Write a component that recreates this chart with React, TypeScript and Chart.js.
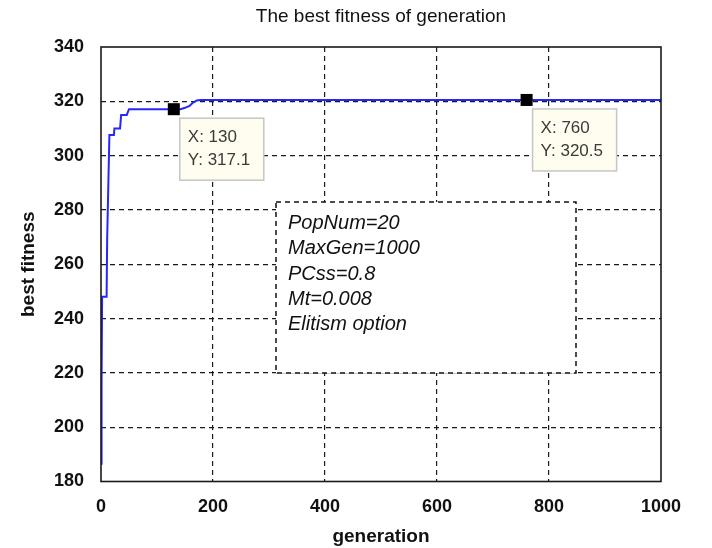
import React, { useEffect, useRef } from 'react';
import Chart from 'chart.js/auto';

// best fitness per generation (steps kept as point pairs)
const generations = [0, 1, 2, 10, 11, 13, 15, 23, 24, 34, 36, 46, 50, 142, 150, 158, 163, 171, 178, 1000];
const bestFitness = [186.5, 217, 248, 248, 269, 288.5, 307.6, 307.6, 310, 310, 315, 315, 317.1, 317.1, 317.6, 318.3, 319.3, 320.3, 320.5, 320.5];

// data tips
const tipGenerations = [130, 760];
const tipFitness = [317.1, 320.5];

const xTickValues = [0, 200, 400, 600, 800, 1000];
const yTickValues = [180, 200, 220, 240, 260, 280, 300, 320, 340];

const chartTitle = 'The best fitness of generation';
const xTitle = 'generation';
const yTitle = 'best fitness';
const noteLines = ['PopNum=20', 'MaxGen=1000', 'PCss=0.8', 'Mt=0.008', 'Elitism option'];

const FONT = '"Liberation Sans", Arial, Helvetica, sans-serif';
const INK = '#111111';

const edgeAware = (min: number, max: number) => (c: any) =>
  c.tick && (c.tick.value === min || c.tick.value === max) ? 'rgba(0,0,0,0)' : '#1a1a1a';

const overlay = {
  id: 'overlay',
  afterDatasetsDraw(chart: any) {
    const { ctx, chartArea } = chart;
    const { left, right, top, bottom } = chartArea;
    const xs = chart.scales.x;
    const ys = chart.scales.y;
    ctx.save();

    // parameter note box
    const nx = left + 175;
    const ny = top + 155;
    const nw = 300;
    const nh = 171;
    ctx.fillStyle = '#ffffff';
    ctx.fillRect(nx, ny, nw, nh);
    ctx.setLineDash([5, 4]);
    ctx.lineWidth = 1.5;
    ctx.strokeStyle = INK;
    ctx.strokeRect(nx, ny, nw, nh);
    ctx.setLineDash([]);
    ctx.fillStyle = INK;
    ctx.font = `italic 20px ${FONT}`;
    ctx.textAlign = 'left';
    ctx.textBaseline = 'middle';
    noteLines.forEach((line, i) => ctx.fillText(line, nx + 12, ny + 21.5 + i * 25.3));

    // frame
    ctx.lineWidth = 1.6;
    ctx.strokeStyle = '#1a1a1a';
    ctx.strokeRect(left, top, right - left, bottom - top);

    // title
    ctx.fillStyle = INK;
    ctx.font = `19px ${FONT}`;
    ctx.textAlign = 'center';
    ctx.fillText(chartTitle, (left + right) / 2, 17);

    // data tips
    tipGenerations.forEach((g, i) => {
      const px = xs.getPixelForValue(g);
      const py = ys.getPixelForValue(tipFitness[i]);
      ctx.fillStyle = '#000000';
      ctx.fillRect(px - 6, py - 6, 12, 12);
      const bx = px + 6;
      const by = py + 9;
      ctx.fillStyle = '#fffdf0';
      ctx.fillRect(bx, by, 84, 62);
      ctx.lineWidth = 1.5;
      ctx.strokeStyle = '#c6c6c6';
      ctx.strokeRect(bx, by, 84, 62);
      ctx.fillStyle = '#3a3a3a';
      ctx.font = `17px ${FONT}`;
      ctx.textAlign = 'left';
      ctx.fillText(`X: ${g}`, bx + 8, by + 19);
      ctx.fillText(`Y: ${tipFitness[i]}`, bx + 8, by + 42);
    });
    ctx.restore();
  },
};

const FitnessChart: React.FC = () => {
  const canvasRef = useRef<HTMLCanvasElement | null>(null);

  useEffect(() => {
    document.body.style.margin = '0';
    let chart: Chart | null = null;
    if (canvasRef.current) {
      chart = new Chart(canvasRef.current, {
        type: 'line',
        data: {
          datasets: [{
            data: generations.map((g, i) => ({ x: g, y: bestFitness[i] })),
            borderColor: '#2626ff',
            borderWidth: 2,
            pointRadius: 0,
            tension: 0,
            fill: false,
          }],
        },
        options: {
          animation: false,
          responsive: false,
          layout: { padding: { top: 47, right: 51, bottom: 0, left: 0 } },
          plugins: { legend: { display: false }, tooltip: { enabled: false }, title: { display: false } },
          scales: {
            x: {
              type: 'linear',
              min: 0,
              max: 1000,
              afterBuildTicks: (s: any) => { s.ticks = xTickValues.map(v => ({ value: v })); },
              afterFit: (s: any) => { s.height = 66.5; },
              ticks: { color: INK, padding: 15, maxRotation: 0, callback: (v: any) => String(v), font: { family: FONT, size: 18, weight: 'bold' } },
              grid: { color: edgeAware(0, 1000), lineWidth: 1.2, drawTicks: false },
              border: { display: false, dash: [5, 4] },
              title: { display: true, text: xTitle, color: INK, padding: { top: 0, bottom: 0 }, font: { family: FONT, size: 19, weight: 'bold' } },
            },
            y: {
              type: 'linear',
              min: 180,
              max: 340,
              afterBuildTicks: (s: any) => { s.ticks = yTickValues.map(v => ({ value: v })); },
              afterFit: (s: any) => { s.width = 101; },
              ticks: { color: INK, padding: 17, callback: (v: any) => String(v), font: { family: FONT, size: 18, weight: 'bold' } },
              grid: { color: edgeAware(180, 340), lineWidth: 1.2, drawTicks: false },
              border: { display: false, dash: [5, 4] },
              title: { display: true, text: yTitle, color: INK, padding: { top: 17, bottom: 0 }, font: { family: FONT, size: 19, weight: 'bold' } },
            },
          },
        },
        plugins: [overlay],
      });
    }
    return () => {
      chart?.destroy();
    };
  }, []);

  return <canvas ref={canvasRef} width={712} height={548} style={{ display: 'block', width: 712, height: 548 }} />;
};

export default function App() {
  return (
    <div style={{ position: 'absolute', left: 0, top: 0, width: 712, height: 548, background: '#ffffff' }}>
      <FitnessChart />
    </div>
  );
}
